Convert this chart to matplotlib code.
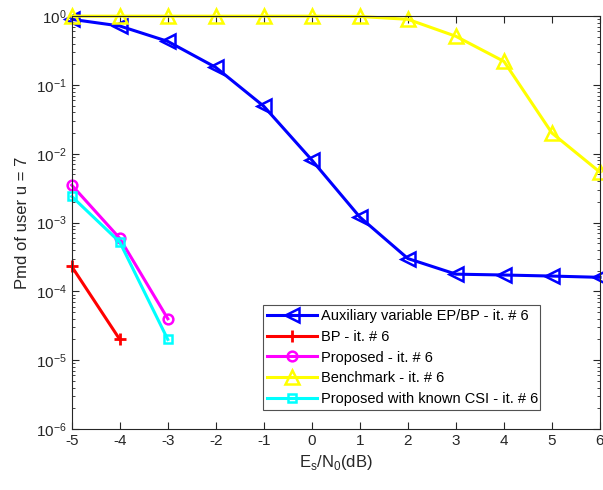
import matplotlib
matplotlib.use("Agg")
import matplotlib.pyplot as plt
import numpy as np

plt.rcParams['font.family'] = ['Liberation Sans', 'DejaVu Sans']
plt.rcParams['axes.unicode_minus'] = False
plt.rcParams['mathtext.fontset'] = 'custom'
plt.rcParams['mathtext.rm'] = 'Liberation Sans'

snr = [-5, -4, -3, -2, -1, 0, 1, 2, 3, 4, 5, 6]
aux_ep_bp = [0.9, 0.72, 0.43, 0.18, 0.049, 0.0081, 0.0012, 3.0e-4, 1.78e-4, 1.73e-4, 1.67e-4, 1.6e-4]
snr_bp = [-5, -4]
bp = [2.3e-4, 2.0e-5]
snr_prop = [-5, -4, -3]
proposed = [3.5e-3, 5.9e-4, 4.0e-5]
benchmark = [1.0, 1.0, 1.0, 1.0, 1.0, 1.0, 0.99, 0.9, 0.51, 0.22, 0.02, 0.0054]
proposed_csi = [2.4e-3, 5.2e-4, 2.0e-5]

labels = ["Auxiliary variable EP/BP - it. # 6", "BP - it. # 6", "Proposed - it. # 6",
          "Benchmark - it. # 6", "Proposed with known CSI - it. # 6"]

fig = plt.figure(figsize=(6.03, 4.9), dpi=100)
ax = fig.add_axes([0.119, 0.1245, 0.876, 0.8425])

lw = 2.2
ax.semilogy(snr, aux_ep_bp, color='#0000ff', marker='<', ms=10, mfc='none', mew=1.8, lw=lw, label=labels[0], clip_on=False)
ax.semilogy(snr_bp, bp, color='#ff0000', marker='+', ms=8, mew=2, lw=lw, label=labels[1], clip_on=False)
ax.semilogy(snr_prop, proposed, color='#ff00ff', marker='o', ms=7, mfc='none', mew=1.8, lw=lw, label=labels[2], clip_on=False)
ax.semilogy(snr, benchmark, color='#ffff00', marker='^', ms=10, mfc='none', mew=1.8, lw=lw, label=labels[3], clip_on=False)
ax.semilogy(snr_prop, proposed_csi, color='#00ffff', marker='s', ms=6, mfc='none', mew=1.8, lw=lw, label=labels[4], clip_on=False)

ax.set_xlim(-5, 6)
ax.set_ylim(1e-6, 1.0)
ax.set_xticks(range(-5, 7))
ax.set_yticks([1e-6, 1e-5, 1e-4, 1e-3, 1e-2, 1e-1, 1e0])
ax.tick_params(which='both', direction='in', top=True, right=True, labelsize=11, colors='#262626')
ax.tick_params(which='major', length=5)
ax.tick_params(which='minor', length=2.5)
for s in ax.spines.values():
    s.set_color('#262626')
    s.set_linewidth(0.8)

ax.set_xlabel(r'E$_\mathregular{s}$/N$_\mathregular{0}$(dB)', fontsize=12, color='#262626')
ax.set_ylabel('Pmd of user u = 7', fontsize=12, color='#262626')

leg = ax.legend(loc='lower left', bbox_to_anchor=(0.362, 0.046, 0.524, 0.25), mode='expand',
                fontsize=10.5, frameon=True, fancybox=False, edgecolor='#262626',
                borderaxespad=0, handlelength=3.4, labelspacing=0.45, borderpad=0.3, handletextpad=0.25)
leg.get_frame().set_linewidth(0.8)

fig.savefig('out.png', dpi=100)
